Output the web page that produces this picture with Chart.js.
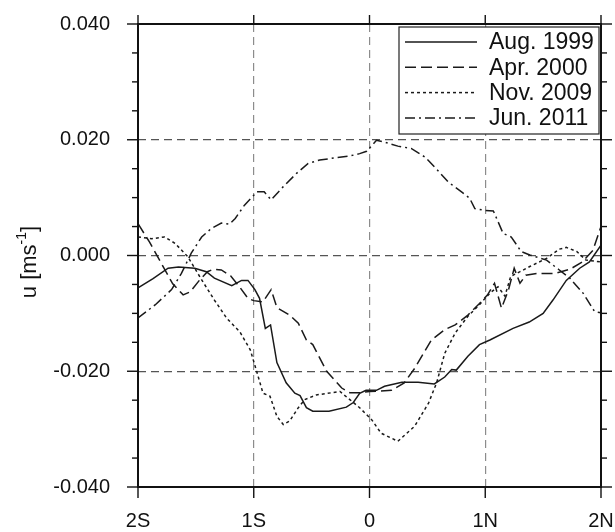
<!DOCTYPE html>
<html lang="en">
<head>
  <meta charset="UTF-8" />
  <title>Zonal velocity profiles</title>
  <script src="https://cdn.jsdelivr.net/npm/chart.js"></script>
  <style>
    body { margin: 0; background: #ffffff; }
    #wrap { width: 615px; height: 532px; }
  </style>
</head>
<body>
  <div id="wrap"><canvas id="uChart"></canvas></div>

  <script>
    // series names and axis ticks
    const seriesNames = ['Aug. 1999', 'Apr. 2000', 'Nov. 2009', 'Jun. 2011'];
    const xTickValues = [-2, -1, 0, 1, 2];
    const xTickLabels = ['2S', '1S', '0', '1N', '2N'];
    const yMin = -0.04, yMax = 0.04, yMajorStep = 0.02, yMinorStep = 0.005;

    // Aug. 1999 (solid)
    const aug1999X = [-2, -1.87, -1.74, -1.65, -1.51, -1.41, -1.34, -1.19, -1.105, -1.05, -0.99, -0.95, -0.90, -0.855, -0.80, -0.72, -0.645, -0.60, -0.545, -0.49, -0.35, -0.20, -0.14, -0.085, -0.03, 0.06, 0.13, 0.28, 0.42, 0.56, 0.65, 0.71, 0.75, 0.85, 0.95, 1.04, 1.24, 1.38, 1.50, 1.585, 1.70, 1.816, 1.90, 2.0];
    const aug1999U = [-0.0056, -0.0040, -0.0022, -0.0020, -0.0022, -0.0028, -0.0039, -0.0052, -0.0043, -0.0043, -0.0059, -0.0074, -0.0126, -0.0120, -0.0185, -0.0220, -0.0238, -0.0242, -0.0263, -0.0269, -0.0269, -0.0262, -0.0254, -0.0238, -0.0233, -0.0233, -0.0226, -0.0219, -0.0219, -0.0222, -0.0210, -0.0197, -0.0198, -0.0174, -0.0154, -0.0146, -0.0126, -0.0115, -0.0100, -0.0077, -0.0043, -0.0022, -0.0011, 0.0018];

    // Apr. 2000 (dashed)
    const apr2000X = [-2, -1.9, -1.8, -1.7, -1.61, -1.55, -1.47, -1.4, -1.35, -1.28, -1.2, -1.12, -1.05, -1.0, -0.92, -0.85, -0.80, -0.69, -0.615, -0.545, -0.49, -0.37, -0.24, -0.17, -0.08, 0.0, 0.19, 0.30, 0.39, 0.535, 0.65, 0.74, 0.85, 0.95, 1.02, 1.08, 1.14, 1.20, 1.25, 1.30, 1.35, 1.45, 1.60, 1.73, 1.84, 1.93, 2.0];
    const apr2000U = [0.0055, 0.0023, -0.0013, -0.0049, -0.0068, -0.0063, -0.0043, -0.0028, -0.0024, -0.0025, -0.0035, -0.0055, -0.0074, -0.0078, -0.0080, -0.0059, -0.0090, -0.0103, -0.0117, -0.0146, -0.0154, -0.0200, -0.0229, -0.0237, -0.0237, -0.0235, -0.0233, -0.0220, -0.0195, -0.0146, -0.0128, -0.0120, -0.0103, -0.0083, -0.0068, -0.0048, -0.0091, -0.0060, -0.0022, -0.0048, -0.0034, -0.0031, -0.0031, -0.0024, -0.0011, 0.0009, 0.0050];

    // Nov. 2009 (dotted)
    const nov2009X = [-2, -1.88, -1.77, -1.68, -1.57, -1.45, -1.34, -1.235, -1.12, -1.03, -0.975, -0.92, -0.86, -0.80, -0.745, -0.69, -0.615, -0.56, -0.46, -0.255, -0.17, -0.085, 0.02, 0.10, 0.245, 0.39, 0.51, 0.58, 0.65, 0.74, 0.85, 0.95, 1.04, 1.11, 1.17, 1.22, 1.30, 1.385, 1.53, 1.64, 1.70, 1.79, 1.87, 2.0];
    const nov2009U = [0.0032, 0.0029, 0.0032, 0.0021, -0.0002, -0.0042, -0.0077, -0.0108, -0.0132, -0.0163, -0.0200, -0.0238, -0.0243, -0.0278, -0.0292, -0.0286, -0.0263, -0.0249, -0.0241, -0.0235, -0.0249, -0.0263, -0.0284, -0.0307, -0.0321, -0.0295, -0.0255, -0.0220, -0.0169, -0.0134, -0.0105, -0.0085, -0.0065, -0.0054, -0.0070, -0.0036, -0.0028, -0.0019, -0.0005, 0.0011, 0.0014, 0.0007, -0.0008, -0.0011];

    // Jun. 2011 (dash-dot)
    const jun2011X = [-2, -1.85, -1.71, -1.625, -1.54, -1.45, -1.365, -1.28, -1.21, -1.16, -1.08, -1.0, -0.975, -0.91, -0.85, -0.745, -0.63, -0.53, -0.43, -0.285, -0.17, -0.085, -0.025, 0.06, 0.13, 0.245, 0.36, 0.48, 0.59, 0.68, 0.795, 0.865, 0.91, 0.995, 1.07, 1.155, 1.225, 1.31, 1.385, 1.53, 1.64, 1.73, 1.845, 1.945, 2.0];
    const jun2011U = [-0.0108, -0.0085, -0.0059, -0.0031, 0.0004, 0.0032, 0.0047, 0.0056, 0.0054, 0.0064, 0.0087, 0.0104, 0.0110, 0.0110, 0.0096, 0.0119, 0.0142, 0.0159, 0.0165, 0.0169, 0.0172, 0.0176, 0.0180, 0.0199, 0.0196, 0.0189, 0.0185, 0.0170, 0.0147, 0.0127, 0.0110, 0.0099, 0.0081, 0.0078, 0.0077, 0.0038, 0.0032, 0.0007, 0.0001, -0.0008, -0.0025, -0.0039, -0.0065, -0.0097, -0.0099];

    const dashes = [[], [11, 5], [3, 3], [10, 4, 2, 4]];
    const lineColor = '#1a1a1a';

    function zip(xs, ys) {
      return xs.map((x, i) => ({ x: x, y: ys[i] }));
    }

    const allSeries = [
      zip(aug1999X, aug1999U),
      zip(apr2000X, apr2000U),
      zip(nov2009X, nov2009U),
      zip(jun2011X, jun2011U)
    ];

    Chart.defaults.font.family = '"Liberation Sans", Arial, Helvetica, sans-serif';
    Chart.defaults.color = '#111';

    // frame, outward ticks (major + minor) on all four sides
    const frameTicks = {
      id: 'frameTicks',
      afterDatasetsDraw(chart) {
        const { ctx, chartArea: a, scales: { x, y } } = chart;
        ctx.save();
        ctx.strokeStyle = '#111';
        ctx.lineWidth = 1.4;
        ctx.setLineDash([]);
        const seg = (x1, y1, x2, y2) => {
          ctx.beginPath(); ctx.moveTo(x1, y1); ctx.lineTo(x2, y2); ctx.stroke();
        };
        const n = Math.round((yMax - yMin) / yMinorStep);
        for (let i = 0; i <= n; i++) {
          const v = yMin + i * yMinorStep;
          const py = y.getPixelForValue(v);
          const major = i % Math.round(yMajorStep / yMinorStep) === 0;
          const len = major ? 11 : 6;
          seg(a.left - len, py, a.left, py);
          seg(a.right, py, a.right + len, py);
        }
        xTickValues.forEach(v => {
          const px = x.getPixelForValue(v);
          seg(px, a.bottom, px, a.bottom + 11);
          seg(px, a.top - 9, px, a.top);
        });
        ctx.lineWidth = 2;
        ctx.strokeRect(a.left, a.top, a.right - a.left, a.bottom - a.top);
        ctx.restore();
      },
      afterDraw(chart) {
        const { ctx, chartArea: a } = chart;
        ctx.save();
        // y axis title with superscript
        ctx.translate(30, 262);
        ctx.rotate(-Math.PI / 2);
        ctx.fillStyle = '#111';
        ctx.textBaseline = 'middle';
        const big = '22px "Liberation Sans", Arial, sans-serif';
        const small = '14px "Liberation Sans", Arial, sans-serif';
        const p1 = 'u [ms', p3 = ']';
        ctx.font = small;
        const w2 = ctx.measureText('-1').width;
        ctx.font = big;
        const w1 = ctx.measureText(p1).width, w3 = ctx.measureText(p3).width;
        const sx = -(w1 + w2 + w3) / 2;
        ctx.textAlign = 'left';
        ctx.fillText(p1, sx, 0);
        ctx.font = small;
        ctx.fillText('-1', sx + w1, -8);
        ctx.font = big;
        ctx.fillText(p3, sx + w1 + w2, 0);
        ctx.restore();

        // legend box inside the plot
        ctx.save();
        const bx = a.right - 202, by = a.top + 3, bw = 200, bh = 107;
        ctx.fillStyle = '#fff';
        ctx.fillRect(bx, by, bw, bh);
        ctx.strokeStyle = '#222';
        ctx.lineWidth = 1.2;
        ctx.strokeRect(bx, by, bw, bh);
        ctx.font = '23px "Liberation Sans", Arial, sans-serif';
        ctx.textBaseline = 'middle';
        ctx.textAlign = 'left';
        chart.data.datasets.forEach((ds, i) => {
          const ry = by + 15 + i * 25.3;
          ctx.strokeStyle = lineColor;
          ctx.lineWidth = 1.5;
          ctx.setLineDash(ds.borderDash);
          ctx.beginPath();
          ctx.moveTo(bx + 6, ry);
          ctx.lineTo(bx + 78, ry);
          ctx.stroke();
          ctx.setLineDash([]);
          ctx.fillStyle = '#111';
          ctx.fillText(ds.label, bx + 90, ry + 1);
        });
        ctx.restore();
      }
    };

    new Chart(document.getElementById('uChart').getContext('2d'), {
      type: 'line',
      data: {
        datasets: allSeries.map((pts, i) => ({
          label: seriesNames[i],
          data: pts,
          borderColor: lineColor,
          borderWidth: 1.5,
          borderDash: dashes[i],
          pointRadius: 0,
          tension: 0,
          fill: false
        }))
      },
      options: {
        responsive: true,
        maintainAspectRatio: false,
        animation: false,
        devicePixelRatio: 1,
        layout: { autoPadding: false, padding: { top: 24, right: 14, left: 0, bottom: 0 } },
        plugins: {
          legend: { display: false },
          tooltip: { enabled: false }
        },
        scales: {
          x: {
            type: 'linear',
            min: -2,
            max: 2,
            afterFit: s => { s.height = 45; s.paddingLeft = 0; s.paddingRight = 0; },
            afterBuildTicks: s => { s.ticks = xTickValues.map(v => ({ value: v })); },
            ticks: {
              font: { size: 20 },
              color: '#111',
              padding: 22,
              maxRotation: 0,
              callback: v => xTickLabels[xTickValues.indexOf(Math.round(v))]
            },
            grid: {
              drawTicks: false,
              lineWidth: 1.2,
              color: c => (Math.abs(c.tick.value) < 1.5 ? '#8c8c8c' : 'rgba(0,0,0,0)')
            },
            border: { display: false, dash: [8, 5] }
          },
          y: {
            min: yMin,
            max: yMax,
            afterFit: s => { s.width = 138; s.paddingTop = 0; s.paddingBottom = 0; },
            ticks: {
              stepSize: yMajorStep,
              font: { size: 20 },
              color: '#111',
              padding: 28,
              callback: v => (Math.abs(v) < 1e-9 ? 0 : v).toFixed(3)
            },
            grid: {
              drawTicks: false,
              lineWidth: 1.2,
              color: c => (Math.abs(c.tick.value) < 0.03 ? '#555' : 'rgba(0,0,0,0)')
            },
            border: { display: false, dash: [8, 5] }
          }
        }
      },
      plugins: [frameTicks]
    });
  </script>
</body>
</html>
